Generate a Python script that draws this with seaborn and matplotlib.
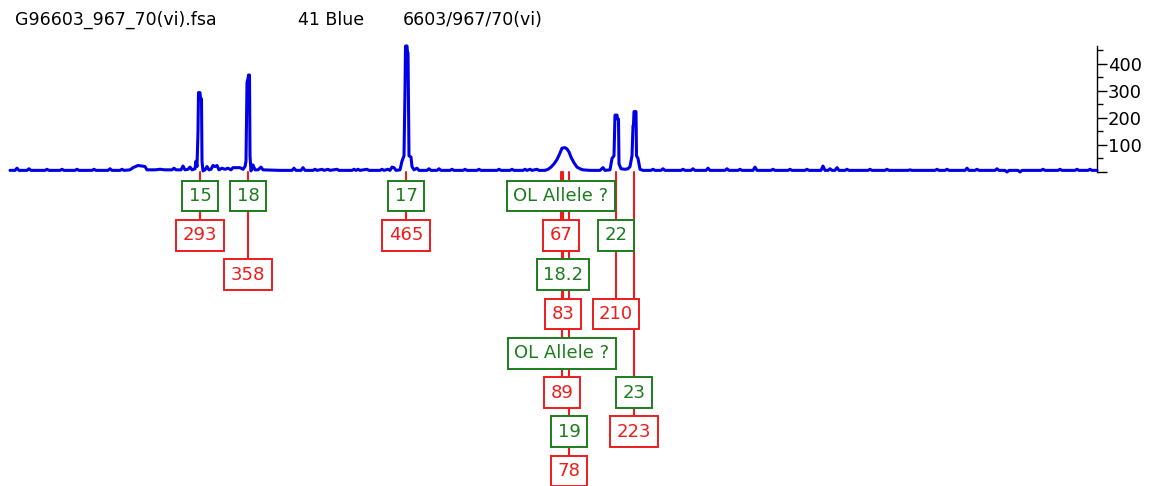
import matplotlib
matplotlib.use("Agg")
import matplotlib.pyplot as plt
import matplotlib.transforms as mtransforms
from matplotlib.ticker import FixedLocator, FixedFormatter
import pandas as pd
import seaborn as sns

# %% data ------------------------------------------------------------------

# raw trace, (scan, RFU)
trace = [
    (10, 6), (15, 6), (17, 14), (19, 6), (27, 6), (29, 12), (31, 6), (45, 6), (47, 10), (49, 6),
    (60, 6), (62, 10), (64, 6), (75, 6), (77, 10), (79, 6), (92, 6), (94, 10), (96, 6), (108, 6),
    (110, 12), (112, 6), (120, 6), (122, 10), (124, 6), (130, 8), (133, 16), (138, 24), (142, 22),
    (145, 20), (147, 8), (155, 8), (160, 10), (165, 8), (172, 8), (174, 14), (176, 8), (181, 8),
    (183, 22), (185, 8), (188, 10), (190, 18), (192, 8), (195, 12), (196, 40), (197, 20),
    (198, 150), (198.5, 293), (200, 293), (200.5, 270), (201.5, 270), (202, 40), (203, 4),
    (205, 8), (207, 20), (209, 8), (211, 10), (213, 24), (215, 20), (217, 24), (219, 8),
    (222, 14), (225, 10), (228, 14), (231, 8), (233, 16), (240, 16), (243, 10), (245, 20),
    (246, 40), (247, 330), (248, 345), (248.5, 358), (249.5, 358), (250, 60), (251, 4),
    (253, 26), (255, 8), (258, 8), (261, 18), (263, 8), (280, 6), (292, 6), (294, 14), (296, 6),
    (301, 6), (303, 16), (305, 6), (313, 6), (315, 10), (317, 6), (322, 10), (324, 6), (328, 10),
    (330, 6), (337, 10), (339, 6), (352, 6), (354, 10), (356, 6), (358, 10), (360, 6), (367, 10),
    (369, 6), (380, 6), (382, 10), (384, 6), (388, 10), (390, 6), (392, 18), (394, 16), (396, 6),
    (400, 8), (402, 40), (403, 50), (404, 60), (405, 300), (405.5, 465), (407, 465),
    (407.5, 440), (408, 440), (409, 60), (411, 55), (412, 20), (414, 8), (417, 14), (419, 6),
    (427, 6), (429, 12), (431, 6), (437, 6), (439, 12), (441, 6), (450, 6), (452, 10), (454, 6),
    (463, 6), (465, 10), (467, 6), (477, 6), (479, 10), (481, 6), (497, 6), (499, 10), (501, 6),
    (510, 6), (512, 10), (514, 6), (523, 6), (525, 10), (527, 6), (530, 10), (532, 6), (537, 10),
    (539, 6), (545, 6), (548, 10), (551, 18), (554, 30), (557, 46), (560, 70), (562, 88),
    (565, 90), (567, 85), (569, 74), (571, 55), (574, 34), (577, 18), (580, 12), (583, 8),
    (590, 6), (600, 6), (603, 16), (605, 6), (610, 8), (612, 50), (614, 60), (615, 210),
    (617, 210), (617.5, 195), (618.5, 195), (619, 30), (621, 12), (625, 10), (628, 12),
    (630, 20), (632, 60), (633, 170), (633.5, 175), (634, 223), (636, 223), (636.5, 60),
    (638, 50), (640, 10), (643, 6), (651, 6), (653, 10), (655, 6), (661, 6), (663, 12), (665, 6),
    (681, 6), (683, 10), (685, 6), (691, 6), (693, 12), (695, 6), (706, 6), (708, 14), (710, 6),
    (725, 6), (727, 12), (729, 6), (738, 6), (740, 10), (742, 6), (753, 6), (755, 18), (757, 6),
    (771, 6), (773, 10), (775, 6), (788, 6), (790, 10), (792, 6), (805, 6), (807, 10), (809, 6),
    (821, 6), (823, 22), (825, 6), (828, 6), (830, 12), (832, 6), (835, 6), (837, 16), (839, 6),
    (845, 6), (847, 10), (849, 6), (868, 6), (870, 10), (872, 6), (885, 6), (887, 10), (889, 6),
    (908, 6), (910, 8), (912, 6), (935, 6), (937, 10), (939, 6), (945, 6), (947, 10), (949, 6),
    (965, 6), (967, 14), (969, 6), (975, 6), (977, 10), (979, 6), (995, 6), (997, 12), (999, 6),
    (1005, 6), (1007, 0), (1009, 6), (1018, 6), (1020, 0), (1022, 6), (1041, 6), (1043, 10),
    (1045, 6), (1058, 6), (1060, 10), (1062, 6), (1075, 6), (1077, 10), (1079, 6), (1088, 6),
    (1090, 10), (1092, 6), (1097, 6),
]

# called peaks
peak_scan = [200, 248, 406, 561, 563, 562, 569, 616, 634]
peak_allele = ["15", "18", "17", "OL Allele ?", "18.2", "OL Allele ?", "19", "22", "23"]
peak_height = [293, 358, 465, 67, 83, 89, 78, 210, 223]

# row of the allele box / height box under the trace
allele_row = [0, 0, 0, 0, 2, 4, 6, 1, 5]
height_row = [1, 2, 1, 1, 3, 5, 7, 3, 6]

yticks = [0, 100, 200, 300, 400]
ytick_labels = ["", "100", "200", "300", "400"]

# %% plot ------------------------------------------------------------------

sns.set_style("white")
plt.rcParams["font.family"] = ["DejaVu Sans"]
plt.rcParams["text.color"] = "black"

BLUE = "#0000e6"
GREEN = "#1c7c1c"
RED = "#ee1c1c"

W, H = 1156, 486
fig = plt.figure(figsize=(W / 100, H / 100), dpi=100)
ax = fig.add_axes([10 / W, 1 - 172 / H, (1097 - 10) / W, (172 - 46) / H])

df = pd.DataFrame(trace, columns=["scan", "rfu"])
sns.lineplot(data=df, x="scan", y="rfu", estimator=None, sort=False,
             color=BLUE, lw=2.2, ax=ax, clip_on=False, zorder=4)

ax.set_xlim(10, 1097)
ax.set_ylim(0, 465)
ax.set_xticks([])
sns.despine(ax=ax, left=True, right=False, bottom=True, top=True)
ax.spines["right"].set_linewidth(1.0)
ax.spines["right"].set_color("black")

ax.yaxis.set_major_locator(FixedLocator(yticks))
ax.yaxis.set_major_formatter(FixedFormatter(ytick_labels))
ax.yaxis.set_minor_locator(FixedLocator([50, 150, 250, 350, 450]))
ax.tick_params(axis="y", which="both", left=False, labelleft=False,
               right=True, labelright=True, direction="out", width=1.0, color="black")
ax.tick_params(axis="y", which="major", length=7, pad=1, labelsize=13, labelcolor="black")
ax.tick_params(axis="y", which="minor", length=4)
ax.set_xlabel("")
ax.set_ylabel("")
ax.patch.set_alpha(0)

# labels below the baseline: x in data, y in figure pixels
blend = mtransforms.blended_transform_factory(ax.transData, fig.transFigure)


def row_y(r):
    return 1 - (196 + 39.3 * r) / H


base_y = 1 - 172 / H
for x, allele, h, ar, hr in zip(peak_scan, peak_allele, peak_height, allele_row, height_row):
    ax.plot([x, x], [base_y, row_y(hr)], color=RED, lw=1.5, transform=blend,
            clip_on=False, zorder=2)
    ax.text(x, row_y(ar), allele, transform=blend, ha="center", va="center",
            color=GREEN, fontsize=13, clip_on=False, zorder=5,
            bbox=dict(boxstyle="square,pad=0.35", fc="white", ec=GREEN, lw=1.4))
    ax.text(x, row_y(hr), str(h), transform=blend, ha="center", va="center",
            color=RED, fontsize=13, clip_on=False, zorder=5,
            bbox=dict(boxstyle="square,pad=0.35", fc="white", ec=RED, lw=1.4))

# header line
ty = 1 - 20 / H
for xpix, s in [(15, "G96603_967_70(vi).fsa"), (298, "41 Blue"), (403, "6603/967/70(vi)")]:
    fig.text(xpix / W, ty, s, fontsize=12.5, va="center", ha="left", color="black")

fig.savefig("out.png", dpi=100, facecolor="white")
